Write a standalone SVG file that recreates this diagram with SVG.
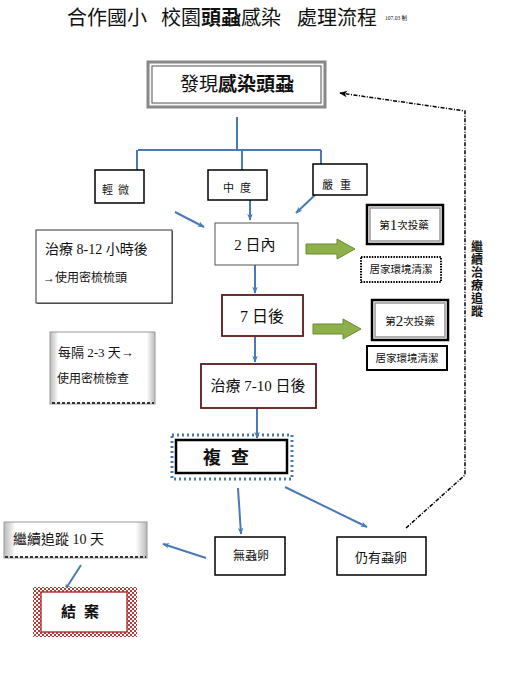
<svg xmlns="http://www.w3.org/2000/svg" width="511" height="700" viewBox="0 0 511 700">
<style>
text{font-family:"Liberation Serif","Noto Sans CJK TC",serif;fill:#111;}
.c{stroke:#4a7ab5;stroke-width:2;fill:none;}
.ca{stroke:#4a7ab5;stroke-width:2;fill:none;marker-end:url(#ab);}
.bx{fill:#fff;stroke:#000;stroke-width:1.5;}
.rd{fill:#fff;stroke:#5a1a1a;stroke-width:1.8;}
.t{text-anchor:middle;dominant-baseline:central;}
.dot{fill:#fff;stroke:#000;stroke-width:2;stroke-dasharray:1.5 1.2;}
.grn{fill:#8db04a;stroke:#6b8a33;stroke-width:1;}
</style>
<defs>
<marker id="ab" viewBox="0 0 10 10" refX="9" refY="5" markerWidth="7" markerHeight="7" orient="auto" markerUnits="userSpaceOnUse">
<path d="M0,1 L10,5 L0,9 L3,5 Z" fill="#4a7ab5"/>
</marker>
<marker id="ak" viewBox="0 0 10 10" refX="9" refY="5" markerWidth="8" markerHeight="8" orient="auto" markerUnits="userSpaceOnUse">
<path d="M0,1 L10,5 L0,9 L3,5 Z" fill="#000"/>
</marker>
<linearGradient id="gs" x1="0" y1="0" x2="1" y2="0">
<stop offset="0" stop-color="#bbb"/><stop offset="0.08" stop-color="#fff"/><stop offset="0.92" stop-color="#fff"/><stop offset="1" stop-color="#bbb"/>
</linearGradient>
<pattern id="chk" width="4" height="4" patternUnits="userSpaceOnUse">
<rect width="4" height="4" fill="#fff"/><rect width="2" height="2" fill="#b53a3a"/><rect x="2" y="2" width="2" height="2" fill="#b53a3a"/>
</pattern>
</defs>
<rect width="511" height="700" fill="#fff"/>
<g id="title">
<text y="25" font-size="20"><tspan x="67">合作國小</tspan><tspan x="161">校園</tspan><tspan font-weight="bold">頭蝨</tspan><tspan>感染</tspan><tspan x="297">處理流程</tspan></text>
<text x="385" y="20" font-size="5.5">107.03 制</text>
</g>
<g id="connectors">
<path class="c" d="M237,117 V150 M138,150 H321 M137,150 V170 M242,150 V170 M321,150 V164"/>
<path class="ca" d="M175,212 L204,227"/>
<path class="ca" d="M250,200 V220"/>
<path class="ca" d="M315,195 L296,213"/>
<path class="ca" d="M255,265 V293"/>
<path class="ca" d="M255,337 V362"/>
<path class="ca" d="M257,408 V438"/>
<path class="ca" d="M238,488 L241,534"/>
<path class="ca" d="M285,487 L367,527"/>
<path class="ca" d="M206,558 L163,544"/>
<path class="ca" d="M81,565 L65,590"/>
<path d="M406,528 L465,475 V111 L340,93" fill="none" stroke="#000" stroke-width="1.5" stroke-dasharray="4 1.5 1 1.5" marker-end="url(#ak)"/>
<path class="grn" d="M306,244 H337 V239 L355,249 L337,259 V254 H306 Z"/>
<path class="grn" d="M313,324 H343 V319 L361,329 L343,339 V334 H313 Z"/>
</g>
<g id="n-found">
<rect x="148" y="62" width="177" height="45" fill="#f7f7f7" stroke="#888" stroke-width="3"/>
<rect x="152" y="66" width="169" height="37" fill="#fff" stroke="#555" stroke-width="1"/>
<text x="237" y="84" class="t" font-size="19">發現<tspan font-weight="bold">感染頭蝨</tspan></text>
</g>
<g id="n-mild"><rect class="bx" x="95" y="170" width="49" height="33"/><text x="118" y="190" class="t" font-size="11" letter-spacing="5">輕微</text></g>
<g id="n-mod"><rect class="bx" x="208" y="170" width="59" height="30"/><text x="240" y="188" class="t" font-size="11" letter-spacing="6">中度</text></g>
<g id="n-sev"><rect class="bx" x="313" y="164" width="54" height="31"/><text x="340" y="185" class="t" font-size="11" letter-spacing="7">嚴重</text></g>
<g id="n-left1">
<rect x="37" y="231" width="136" height="73" fill="#666"/>
<rect x="36" y="230" width="136" height="73" fill="#fff" stroke="#333" stroke-width="1"/>
<text x="45" y="249" font-size="14" dominant-baseline="central">治療 8-12 小時後</text>
<text x="43" y="278" font-size="12" dominant-baseline="central">→使用密梳梳頭</text>
</g>
<g id="n-2d"><rect x="215" y="223" width="83" height="42" fill="#fff" stroke="#555" stroke-width="1"/><text x="255" y="245" class="t" font-size="15">2 日內</text></g>
<g id="n-med1">
<rect x="367" y="205" width="76" height="39" fill="#fff" stroke="#000" stroke-width="2.5"/>
<rect x="370" y="208" width="70" height="33" fill="#fff" stroke="#999" stroke-width="1.5"/>
<text x="404" y="225" class="t" font-size="10.5">第<tspan font-size="15">1</tspan>次投藥</text>
</g>
<g id="n-clean1"><rect class="dot" x="361" y="257" width="80" height="25"/><text x="401" y="269" class="t" font-size="10.5">居家環境清潔</text></g>
<g id="n-7d"><rect class="rd" x="222" y="295" width="81" height="41"/><text x="262" y="316" class="t" font-size="16">7 日後</text></g>
<g id="n-med2">
<rect x="372" y="300" width="76" height="40" fill="#fff" stroke="#000" stroke-width="2.5"/>
<rect x="375" y="303" width="70" height="34" fill="#fff" stroke="#999" stroke-width="1.5"/>
<text x="410" y="321" class="t" font-size="10.5">第<tspan font-size="15">2</tspan>次投藥</text>
</g>
<g id="n-clean2"><rect x="367" y="346" width="80" height="24" fill="#fff" stroke="#000" stroke-width="2"/><text x="407" y="358" class="t" font-size="10.5">居家環境清潔</text></g>
<g id="n-left2">
<rect x="50" y="332" width="105" height="72" fill="url(#gs)" stroke="#999" stroke-width="1"/>
<line x1="52" y1="403" x2="154" y2="403" stroke="#333" stroke-width="2" stroke-dasharray="3 2"/>
<text x="58" y="352" font-size="13" dominant-baseline="central">每隔 2-3 天→</text>
<text x="57" y="379" font-size="12" dominant-baseline="central">使用密梳檢查</text>
</g>
<g id="n-710"><rect class="rd" x="201" y="364" width="115" height="44"/><text x="258" y="386" class="t" font-size="15">治療 7-10 日後</text></g>
<g id="n-recheck">
<rect x="172" y="435" width="120" height="44" fill="none" stroke="#4a7ab5" stroke-width="3" stroke-dasharray="2 3"/>
<rect x="176" y="440" width="111" height="33" fill="#fff" stroke="#000" stroke-width="2.5"/>
<text x="231" y="458" class="t" font-size="18" font-weight="bold" letter-spacing="10">複查</text>
</g>
<g id="n-noegg"><rect class="bx" x="215" y="537" width="70" height="38"/><text x="251" y="556" class="t" font-size="12">無蝨卵</text></g>
<g id="n-egg"><rect class="bx" x="337" y="537" width="89" height="38"/><text x="381" y="557" class="t" font-size="13">仍有蝨卵</text></g>
<g id="n-follow">
<rect x="4" y="522" width="143" height="36" fill="url(#gs)" stroke="#999" stroke-width="1"/>
<line x1="5" y1="557" x2="146" y2="557" stroke="#333" stroke-width="2" stroke-dasharray="3 2"/>
<text x="13" y="539" font-size="14" fill="#333" dominant-baseline="central">繼續追蹤 10 天</text>
</g>
<g id="n-close">
<rect x="33" y="587" width="104" height="50" fill="url(#chk)"/>
<rect x="41" y="592" width="86" height="40" fill="#fff" stroke="#b53a3a" stroke-width="1.5"/>
<text x="84" y="612" class="t" font-size="15" font-weight="bold" letter-spacing="8">結案</text>
</g>
<g id="label-loop">
<text x="477" y="251" font-size="12" font-weight="bold" text-anchor="middle"><tspan x="477" dy="0">繼</tspan><tspan x="477" dy="13">續</tspan><tspan x="477" dy="13">治</tspan><tspan x="477" dy="13">療</tspan><tspan x="477" dy="13">追</tspan><tspan x="477" dy="13">蹤</tspan></text>
</g>
</svg>
